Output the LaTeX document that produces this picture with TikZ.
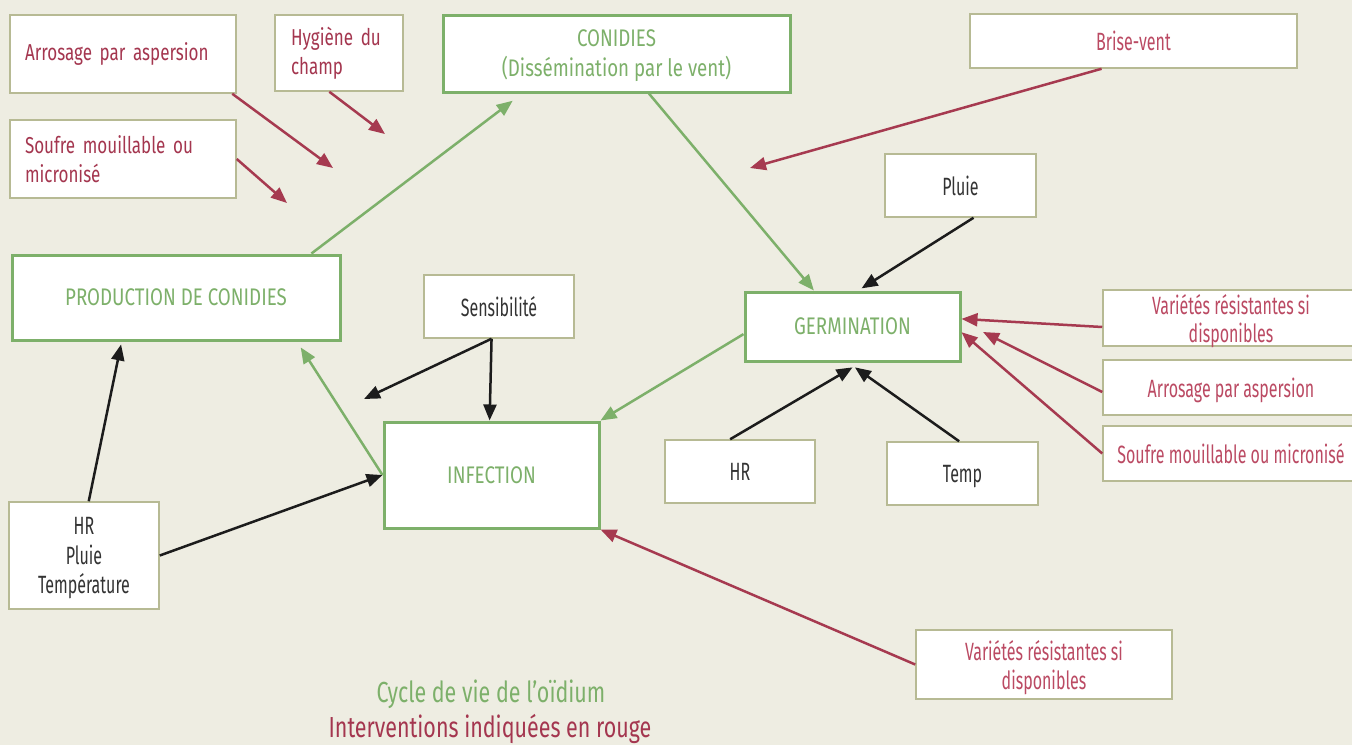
\documentclass[tikz,border=0pt]{standalone}
\usepackage{fontspec}
\setmainfont{Fira Sans}
\newfontfamily\medf[FakeStretch=0.74]{Fira Sans}
\newfontfamily\titf[FakeStretch=0.78]{Fira Sans}
\newfontfamily\lightf[FakeStretch=0.64]{Fira Sans}
\usetikzlibrary{arrows.meta}
\definecolor{bg}{HTML}{EEEDE2}
\definecolor{grn}{HTML}{7DB06A}
\definecolor{olv}{HTML}{B7BA94}
\definecolor{rdk}{HTML}{A4364F}
\definecolor{rlt}{HTML}{BB4A63}
\definecolor{rln}{HTML}{A63A50}
\definecolor{txt}{HTML}{333333}
\definecolor{blk}{HTML}{1C1C1C}

\begin{document}
\begin{tikzpicture}[x=1pt,y=-1pt,
    stage/.style={draw=grn, line width=3pt, fill=white, text=grn, inner sep=0pt, align=center,
      text depth=0pt, font=\titf\fontsize{24}{30}\selectfont},
    plain/.style={draw=olv, line width=1.5pt, fill=white, inner sep=0pt},
    factor/.style={plain, text=txt, align=center, text depth=0pt,
      font=\lightf\fontsize{25}{29}\selectfont},
    action/.style={factor, text=rlt},
    actionl/.style={plain, text=rdk, align=left, inner xsep=15pt,
      font=\medf\fontsize{23}{29}\selectfont},
    garr/.style={draw=grn, line width=2.5pt, -{Triangle[length=16pt,width=13pt]}},
    rarr/.style={draw=rln, line width=2.5pt, -{Triangle[length=16pt,width=13pt]}},
    karr/.style={draw=blk, line width=2.5pt, -{Triangle[length=16pt,width=13pt]}}]
  \useasboundingbox (0,0) rectangle (1352,745);
  \clip (0,0) rectangle (1352,745);
  \fill[bg] (0,0) rectangle (1352,745);

  \node[actionl, text width=196pt, minimum height=78pt] (arrosA) at (123,54) {Arrosage par aspersion};
  \node[actionl, text width=96pt, inner xsep=16pt, minimum height=76pt] (hygiene) at (339,53) {Hygiène du\\champ};
  \node[actionl, text width=196pt, minimum height=78pt] (soufreA) at (123,159) {Soufre mouillable ou\\micronisé};
  \node[stage, minimum width=347pt, minimum height=77pt] (conid) at (616.5,53.5) {CONIDIES\\(Dissémination par le vent)};
  \node[action, minimum width=327pt, minimum height=54pt] (brise) at (1133.5,41) {Brise-vent};
  \node[factor, minimum width=151pt, minimum height=63pt] (pluie) at (960.5,185.5) {Pluie};
  \node[stage, minimum width=328pt, minimum height=85pt] (prod) at (176,297.5) {PRODUCTION DE CONIDIES};
  \node[factor, minimum width=150pt, minimum height=63pt] (sensi) at (499,306.5) {Sensibilité};
  \node[stage, minimum width=215pt, minimum height=69pt] (germ) at (852.5,326.5) {GERMINATION};
  \node[action, minimum width=256pt, minimum height=56pt, font=\lightf\fontsize{25}{28}\selectfont] (varA) at (1231,318) {Variétés résistantes si\\disponibles};
  \node[action, minimum width=256pt, minimum height=55pt] (arrosB) at (1231,387.5) {Arrosage par aspersion};
  \node[action, minimum width=256pt, minimum height=55pt] (soufreB) at (1231,453.5) {Soufre mouillable ou micronisé};
  \node[stage, minimum width=215pt, minimum height=106pt] (infect) at (491.5,475) {INFECTION};
  \node[factor, minimum width=150pt, minimum height=63pt] (hr) at (740,471.5) {HR};
  \node[factor, minimum width=151pt, minimum height=63pt] (temp) at (962.5,473.5) {Temp};
  \node[factor, minimum width=150pt, minimum height=107pt, font=\lightf\fontsize{25}{29.5}\selectfont] (meteo) at (84,555.5) {HR\\Pluie\\Température};
  \node[action, minimum width=256pt, minimum height=69pt] (varB) at (1044,664.5) {Variétés résistantes si\\disponibles};
  \node[text=grn, font=\medf\fontsize{29}{30}\selectfont] (titre) at (491,694) {Cycle de vie de l’oïdium};
  \node[text=rdk, font=\medf\fontsize{29}{30}\selectfont] (legende) at (490,729) {Interventions indiquées en rouge};

  \coordinate (pA) at (333,168);
  \coordinate (pB) at (385,134);
  \coordinate (pC) at (287,203);
  \coordinate (pD) at (750,168);
  \coordinate (pE) at (983,332);
  \coordinate (pF) at (364,399);

  \draw[rarr] (arrosA.-20) -- (pA);
  \draw[rarr] (hygiene.-104) -- (pB);
  \draw[rarr] (soufreA.east) -- (pC);
  \draw[rarr] (brise.-139.4) -- (pD);
  \draw[rarr] (varA.-176.9) -- (germ.4.5);
  \draw[rarr] (arrosB.-178.4) -- (pE);
  \draw[rarr] (soufreB.west) -- (germ.-3.5);
  \draw[rarr] (varB.west) -- (infect.south east);

  \draw[garr, shorten >=12pt] (prod.18.9) -- (conid.-157);
  \draw[garr] (conid.-51.4) -- (germ.137.4);
  \draw[garr] (germ.-176.5) -- (infect.north east);
  \draw[garr, shorten >=7pt] (infect.west) -- (prod.-20.7);

  \draw[karr, shorten >=4pt] (pluie.-68.4) -- (germ.81.9);
  \draw[karr] (sensi.-103.8) -- (pF);
  \draw[karr] (sensi.-103.8) -- (infect.92.7);
  \draw[karr, shorten >=9.6pt] (hr.107.6) -- (germ.-77.4);
  \draw[karr, shorten >=8.4pt] (temp.96.3) -- (germ.-97.1);
  \draw[karr, shorten >=3pt] (meteo.85.7) -- (prod.-141.5);
  \draw[karr] (meteo.east) -- (infect.west);
\end{tikzpicture}
\end{document}
